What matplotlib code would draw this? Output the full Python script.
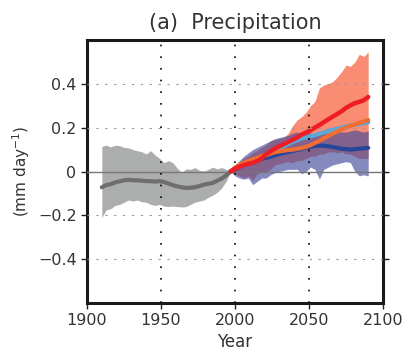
import matplotlib as mpl

mpl.use("Agg")
import matplotlib.pyplot as plt

# historical ensemble (grey)
hist_years = [1910, 1913, 1916, 1919, 1922, 1925, 1928, 1931, 1934, 1937,
              1940, 1943, 1946, 1949, 1952, 1955, 1958, 1961, 1964, 1967,
              1970, 1973, 1976, 1979, 1982, 1985, 1988, 1991, 1994, 1997]
hist_mean = [-0.072, -0.062, -0.058, -0.050, -0.045, -0.040, -0.038, -0.040, -0.040, -0.042,
             -0.044, -0.044, -0.046, -0.044, -0.048, -0.055, -0.062, -0.068, -0.072, -0.075,
             -0.074, -0.072, -0.066, -0.060, -0.056, -0.052, -0.042, -0.032, -0.018, 0.000]
hist_hi = [0.115, 0.120, 0.112, 0.120, 0.118, 0.110, 0.108, 0.100, 0.095, 0.090,
           0.080, 0.095, 0.075, 0.060, 0.040, 0.050, 0.040, 0.015, -0.005, 0.012,
           0.010, 0.018, 0.005, 0.002, 0.010, 0.020, 0.012, 0.018, 0.010, 0.000]
hist_lo = [-0.210, -0.175, -0.170, -0.155, -0.150, -0.140, -0.130, -0.135, -0.130, -0.138,
           -0.140, -0.150, -0.155, -0.150, -0.158, -0.160, -0.158, -0.160, -0.162, -0.160,
           -0.150, -0.140, -0.135, -0.130, -0.118, -0.108, -0.095, -0.075, -0.045, 0.000]

# scenario projections
fut_years = [1997, 2000, 2003, 2006, 2009, 2012, 2015, 2018, 2021, 2024,
             2027, 2030, 2033, 2036, 2039, 2042, 2045, 2048, 2051, 2054,
             2057, 2060, 2063, 2066, 2069, 2072, 2075, 2078, 2081, 2084,
             2087, 2090]
rcp85 = [0.000, 0.012, 0.022, 0.030, 0.035, 0.040, 0.048, 0.060, 0.078, 0.092,
         0.105, 0.115, 0.125, 0.135, 0.145, 0.155, 0.168, 0.178, 0.188, 0.200,
         0.212, 0.225, 0.238, 0.250, 0.262, 0.275, 0.290, 0.302, 0.312, 0.318,
         0.325, 0.340]
rcp60 = [0.000, 0.015, 0.028, 0.038, 0.045, 0.052, 0.060, 0.068, 0.075, 0.085,
         0.095, 0.105, 0.115, 0.125, 0.135, 0.142, 0.150, 0.155, 0.160, 0.166,
         0.172, 0.178, 0.184, 0.190, 0.195, 0.200, 0.205, 0.210, 0.213, 0.216,
         0.220, 0.224]
rcp45 = [0.000, 0.018, 0.030, 0.040, 0.048, 0.055, 0.062, 0.070, 0.075, 0.082,
         0.088, 0.092, 0.095, 0.098, 0.100, 0.103, 0.108, 0.113, 0.120, 0.130,
         0.140, 0.152, 0.162, 0.172, 0.182, 0.192, 0.200, 0.208, 0.215, 0.222,
         0.228, 0.235]
rcp26 = [0.000, 0.010, 0.022, 0.030, 0.038, 0.045, 0.052, 0.058, 0.062, 0.068,
         0.074, 0.080, 0.085, 0.090, 0.093, 0.098, 0.104, 0.110, 0.113, 0.116,
         0.118, 0.118, 0.115, 0.112, 0.108, 0.104, 0.102, 0.100, 0.102, 0.104,
         0.106, 0.108]
rcp85_hi = [0.000, 0.020, 0.040, 0.060, 0.070, 0.085, 0.095, 0.110, 0.120, 0.140,
            0.145, 0.150, 0.155, 0.175, 0.210, 0.235, 0.250, 0.270, 0.300, 0.320,
            0.380, 0.395, 0.400, 0.410, 0.430, 0.455, 0.485, 0.480, 0.500, 0.535,
            0.525, 0.545]
rcp85_lo = [0.000, -0.010, -0.020, -0.030, -0.020, -0.040, -0.010, -0.005, 0.000, 0.010,
            0.030, 0.035, 0.040, 0.045, 0.040, 0.050, 0.050, 0.060, 0.070, 0.070,
            0.080, 0.080, 0.090, 0.090, 0.085, 0.090, 0.080, 0.080, 0.070, 0.060,
            0.060, 0.060]
rcp26_hi = [0.000, 0.030, 0.050, 0.070, 0.085, 0.100, 0.110, 0.120, 0.130, 0.140,
            0.150, 0.155, 0.160, 0.165, 0.175, 0.180, 0.175, 0.180, 0.175, 0.170,
            0.175, 0.180, 0.175, 0.180, 0.185, 0.180, 0.180, 0.185, 0.190, 0.185,
            0.180, 0.185]
rcp26_lo = [0.000, -0.020, -0.030, -0.035, -0.030, -0.060, -0.045, -0.030, -0.030, -0.015,
            -0.005, 0.000, 0.005, 0.010, 0.010, 0.010, -0.010, 0.000, 0.020, 0.010,
            -0.035, 0.010, 0.020, 0.030, 0.035, 0.040, 0.045, 0.040, 0.000, -0.020,
            -0.015, -0.020]

text_col = "#333333"
plt.rcParams["font.family"] = ["DejaVu Sans"]

fig = plt.figure(figsize=(4.06, 3.55), dpi=100)
ax = fig.add_axes([87 / 406, 1 - 303 / 355, 296 / 406, 263 / 355])

ax.fill_between(hist_years, hist_lo, hist_hi, color="#acaead", lw=0, zorder=2)
ax.fill_between(fut_years, rcp85_lo, rcp85_hi, color="#f98c73", lw=0, zorder=2)
ax.fill_between(fut_years, rcp26_lo, rcp26_hi, color="#424a9b", alpha=0.65, lw=0, zorder=3)
ax.axhline(0, color="#777777", lw=1.0, zorder=4)

ax.plot(hist_years, hist_mean, color="#6e6e6e", lw=3, zorder=5, solid_capstyle="round")
ax.plot(fut_years, rcp26, color="#26469a", lw=3, zorder=5, solid_capstyle="round")
ax.plot(fut_years, rcp60, color="#5ba7d6", lw=3, zorder=6, solid_capstyle="round")
ax.plot(fut_years, rcp45, color="#f26d33", lw=3, zorder=7, solid_capstyle="round")
ax.plot(fut_years, rcp85, color="#ee1c25", lw=3.2, zorder=8, solid_capstyle="round")

# grid drawn over the data, as in the original
for yv in (-0.4, -0.2, 0.2, 0.4):
    ax.axhline(yv, color="#999999", lw=0.8, ls=(0, (2, 6)), zorder=9)
for xv in (1950, 2000, 2050):
    ax.axvline(xv, color="black", lw=1.2, ls=(0, (1, 6)), zorder=10)

ax.set_xlim(1900, 2100)
ax.set_ylim(-0.6, 0.6)
ax.set_xticks([1900, 1950, 2000, 2050, 2100])
ax.set_yticks([-0.4, -0.2, 0, 0.2, 0.4])
ax.set_yticklabels(["\u22120.4", "\u22120.2", "0", "0.2", "0.4"])
ax.tick_params(axis="both", direction="out", length=4, width=1, labelsize=11.5,
               colors="#222222", labelcolor=text_col)
ax.tick_params(axis="y", right=True, labelright=False)
for sp in ax.spines.values():
    sp.set_linewidth(2.2)
    sp.set_color("#1a1a1a")

ax.set_title("(a)  Precipitation", fontsize=15, color=text_col, pad=8)
ax.set_xlabel("Year", fontsize=12, color=text_col, labelpad=3)
ax.set_ylabel("(mm day$^{-1}$)", fontsize=11, color=text_col, labelpad=4)

fig.savefig("out.png", dpi=100)
